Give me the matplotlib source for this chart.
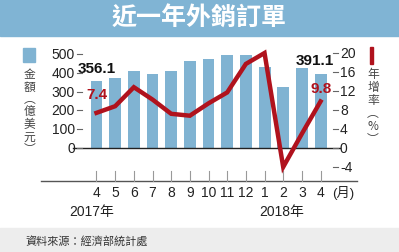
import numpy as np
import matplotlib.pyplot as plt
from matplotlib.patches import Rectangle
from matplotlib.transforms import blended_transform_factory

plt.rcParams['font.family'] = ['Liberation Sans', 'Noto Sans CJK TC', 'DejaVu Sans']

# data
months = ['4', '5', '6', '7', '8', '9', '10', '11', '12', '1', '2', '3', '4']
orders = [356.1, 371.9, 409.5, 391.0, 412.0, 465.0, 472.0, 497.0, 495.0, 433.0, 326.0, 428.0, 391.1]
growth = [7.4, 8.8, 12.8, 10.2, 7.2, 6.8, 9.4, 11.7, 17.7, 20.0, -4.0, 3.0, 9.8]
left_ticks = [0, 100, 200, 300, 400, 500]
right_ticks = [-4, 0, 4, 8, 12, 16, 20]

bar_color = '#80b3d2'
line_color = '#b0121d'
W, H = 399, 253

fig = plt.figure(figsize=(W / 100, H / 100), dpi=100)
fig.patch.set_facecolor('white')

# title band and footer band
fig.patches.append(Rectangle((0, 1 - 37 / H), 1, 37 / H, transform=fig.transFigure,
                             color='#80b4d4', zorder=0))
fig.patches.append(Rectangle((0, 0), 1, 24 / H, transform=fig.transFigure,
                             color='#ededed', zorder=0))
fig.text(0.5, 1 - 19 / H, '近一年外銷訂單', color='white', fontsize=18,
         fontweight='bold', ha='center', va='center', family='Noto Sans CJK TC')
fig.text(25 / W, 12 / H, '資料來源：經濟部統計處', color='#333333', fontsize=8,
         ha='left', va='center', family='Noto Sans CJK TC')

# axes: pixel layout
x0, x1 = 41, 357
y_top, y_bot = 40, 182
ax = fig.add_axes([x0 / W, 1 - y_bot / H, (x1 - x0) / W, (y_bot - y_top) / H])
step = 18.67
first = 96.5
ax.set_xlim((x0 - first) / step, (x1 - first) / step)
zero_px = 149
lscale = (zero_px - 55) / 500.0
ax.set_ylim(-(y_bot - zero_px) / lscale, (zero_px - y_top) / lscale)
ax2 = ax.twinx()
rscale = (zero_px - 54) / 20.0
ax2.set_ylim(-(y_bot - zero_px) / rscale, (zero_px - y_top) / rscale)

for a in (ax, ax2):
    a.set_axis_off()

x = np.arange(len(months))
ax.bar(x, orders, width=0.64, color=bar_color, zorder=1)
ax2.plot(x, growth, color=line_color, lw=3.2, solid_joinstyle='miter', zorder=3)

# zero line and baseline
ax.plot([(73 - first) / step, (340 - first) / step], [0, 0], color='#222222', lw=1, zorder=2)
ax.axhline(ax.get_ylim()[0], color='#555555', lw=1, clip_on=False)
for xi in x:
    ax.plot([xi, xi], [ax.get_ylim()[0], ax.get_ylim()[0] + 10 / lscale],
            color='#999999', lw=0.8, clip_on=False)

# left ticks
tl = blended_transform_factory(fig.transFigure, ax.transData)
for v in left_ticks:
    ax.text(75 / W, v, str(v), transform=tl, ha='right', va='center', fontsize=10, color='#222222')
    ax.plot([77 / W, 82 / W], [v, v], transform=tl, color='#666666', lw=0.8, clip_on=False)
# right ticks
tr = blended_transform_factory(fig.transFigure, ax2.transData)
for v in right_ticks:
    ax2.text(340 / W, v, str(v), transform=tr, ha='left', va='center', fontsize=10, color='#222222')
    ax2.plot([333 / W, 338 / W], [v, v], transform=tr, color='#666666', lw=0.8, clip_on=False)

# month labels
for xi, m in zip(x, months):
    ax.text(xi, -(193 - zero_px) / lscale, m, ha='center', va='center', fontsize=10, color='#222222')
ax.text((343 - first) / step, -(193 - zero_px) / lscale, '(月)', ha='center', va='center',
        fontsize=9.5, color='#222222')
ax.text((92 - first) / step, -(212 - zero_px) / lscale, '2017年', ha='center', va='center',
        fontsize=10, color='#222222')
ax.text((282 - first) / step, -(212 - zero_px) / lscale, '2018年', ha='center', va='center',
        fontsize=10, color='#222222')

# value labels
ax.text(x[0], orders[0] + 30, f'{orders[0]:.1f}', ha='center', va='bottom', fontsize=11,
        fontweight='bold', color='#111111')
ax.text(x[-1] - 0.3, orders[-1] + 42, f'{orders[-1]:.1f}', ha='center', va='bottom', fontsize=11,
        fontweight='bold', color='#111111')
ax2.text(x[0] + 0.05, growth[0] + 2.5, f'{growth[0]:.1f}', ha='center', va='bottom', fontsize=11,
         fontweight='bold', color=line_color)
ax2.text(x[-1] + 0.05, growth[-1] + 1.4, f'{growth[-1]:.1f}', ha='center', va='bottom', fontsize=11,
         fontweight='bold', color=line_color)

# legends
fig.patches.append(Rectangle((23 / W, 1 - 63 / H), 12 / W, 14 / H, transform=fig.transFigure,
                             color=bar_color))
fig.text(29.5 / W, 1 - 68 / H, '金\n額\n︵\n億\n美\n元\n︶', ha='center', va='top', fontsize=8.5,
         color='#444444', linespacing=0.95, family='Noto Sans CJK TC')
fig.patches.append(Rectangle((370 / W, 1 - 65 / H), 3 / W, 17 / H, transform=fig.transFigure,
                             color=line_color))
fig.text(373 / W, 1 - 68 / H, '年\n增\n率\n︵\n%\n︶', ha='center', va='top', fontsize=8.5,
         color='#444444', linespacing=1.0, family='Noto Sans CJK TC')

fig.savefig('out.png', dpi=100)
